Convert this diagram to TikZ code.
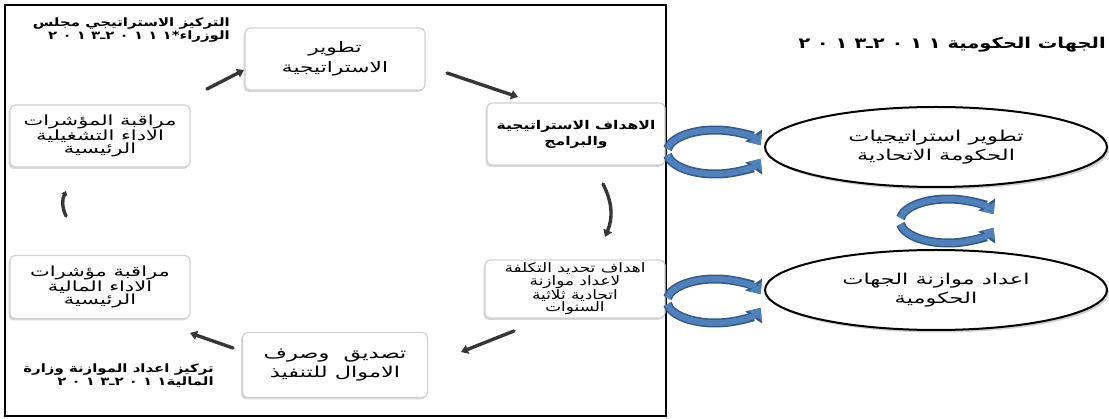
\documentclass[tikz,border=0pt]{standalone}
\usepackage{fontspec}
\newfontfamily\arf[Script=Arabic,FakeStretch=1.3]{DejaVu Sans}
\newfontfamily\arw[Script=Arabic,FakeStretch=1.5]{DejaVu Sans}
\TeXXeTstate=1
\usetikzlibrary{arrows.meta,shapes.geometric,shadows,calc}
\newcommand{\AR}[1]{\beginR #1\endR}
\definecolor{arcblue}{RGB}{79,129,189}
\definecolor{arcdark}{RGB}{52,88,135}
\definecolor{cycgray}{RGB}{55,55,55}
\begin{document}
\begin{tikzpicture}[x=1pt,y=1pt,
  box/.style={draw=black!18, line width=1.2pt, rounded corners=5pt, fill=white,
    drop shadow={shadow xshift=-1.5pt, shadow yshift=-2pt, opacity=0.25, fill=black!60},
    minimum width=180pt, minimum height=62pt, align=center, inner sep=1pt,
    font=\arw\fontsize{14.5}{20}\selectfont},
  lbl/.style={align=right, inner sep=0pt, font=\arf\bfseries\fontsize{11.5}{12.5}\selectfont},
  oval/.style={ellipse, draw=black, line width=2pt, fill=white,
    drop shadow={shadow xshift=2pt, shadow yshift=-2.5pt, opacity=0.3, fill=black!60},
    minimum width=342pt, minimum height=80pt, align=center,
    font=\arw\fontsize{15}{19}\selectfont},
  cyc/.style={line width=3.4pt, cycgray, line cap=round, -{Triangle[length=7pt,width=9pt]}},
  ringout/.style={line width=9pt, arcdark, -{Triangle[length=12pt,width=20pt]}},
  ring/.style={line width=6pt, arcblue, -{Triangle[length=9.5pt,width=16pt]}}
]
\useasboundingbox (0,0) rectangle (1109,-419);
\fill[white] (0,0) rectangle (1109,-419);
\draw[line width=2.5pt] (5,-5) rectangle (666,-416);

% cycle boxes
\node[box] (b1) at (335,-59) {\AR{تطوير}\\\AR{الاستراتيجية}};
\node[box, minimum width=178pt, font=\arf\bfseries\fontsize{12}{16}\selectfont] (b2) at (576,-134) {\AR{الاهداف الاستراتيجية}\\\AR{والبرامج}};
\node[box, minimum height=58pt, font=\arf\fontsize{13}{12.5}\selectfont] (b3) at (575,-289) {\AR{اهداف تحديد التكلفة}\\\AR{لاعداد موازنة}\\\AR{اتحادية ثلاثية}\\\AR{السنوات}};
\node[box, minimum width=185pt, minimum height=65pt, font=\arw\fontsize{15}{19}\selectfont] (b4) at (335,-365) {\AR{تصديق~~وصرف}\\\AR{الاموال للتنفيذ}};
\node[box, minimum height=63pt, font=\arw\fontsize{14}{13.5}\selectfont] (b5) at (100,-287) {\AR{مراقبة مؤشرات}\\\AR{الاداء المالية}\\\AR{الرئيسية}};
\node[box, font=\arw\fontsize{14}{13.5}\selectfont] (b6) at (100,-136) {\AR{مراقبة المؤشرات}\\\AR{الاداء التشغيلية}\\\AR{الرئيسية}};

% cycle arrows
\coordinate (a61s) at (207,-89); \coordinate (a61e) at (244,-70);
\coordinate (a12s) at (447,-73); \coordinate (a12e) at (518,-97);
\coordinate (a23s) at (603,-184); \coordinate (a23e) at (605,-237);
\coordinate (a34s) at (514,-331); \coordinate (a34e) at (461,-352);
\coordinate (a45s) at (233,-348); \coordinate (a45e) at (190,-333);
\coordinate (a56s) at (66,-216); \coordinate (a56e) at (66,-191);
\draw[cyc] (a61s) -- (a61e);
\draw[cyc] (a12s) -- (a12e);
\draw[cyc] (a23s) to[bend left=25] (a23e);
\draw[cyc] (a34s) -- (a34e);
\draw[cyc] (a45s) -- (a45e);
\draw[cyc, -{Triangle[length=4pt,width=6pt]}] (a56s) to[bend left=25] (a56e);

% side labels
\node[lbl, anchor=north east] (l1) at (230,-18) {\AR{التركيز الاستراتيجي مجلس}\\
  \AR{الوزراء*١ ١ ١ ٠ ٢\kern0ptـ\kern0pt٣ ١ ٠ ٢}};
\node[lbl, anchor=north east] (l2) at (214,-364) {\AR{تركيز اعداد الموازنة وزارة}\\
  \AR{المالية١ ١ ٠ ٢\kern0ptـ\kern0pt٣ ١ ٠ ٢}};

% right part
\node[anchor=east, inner sep=0pt, font=\arf\bfseries\fontsize{15}{16}\selectfont] (title) at (1106,-45)
  {\AR{الجهات الحكومية ١ ١ ٠ ٢\kern0ptـ\kern0pt٣ ١ ٠ ٢}};
\node[oval] (e1) at (936,-147) {\AR{تطوير استراتيجيات}\\\AR{الحكومة الاتحادية}};
\node[oval] (e2) at (936,-290) {\AR{اعداد موازنة الجهات}\\\AR{الحكومية}};

% circular arrows
\coordinate (r1) at (715,-152);
\coordinate (r2) at (715,-301);
\coordinate (r3) at (948,-221);
\foreach \c in {r1,r2,r3}{
  \foreach \st in {ringout,ring}{
    \draw[\st] ($(\c)+(172:48 and 22)$) arc[start angle=172, end angle=18, x radius=48, y radius=22];
    \draw[\st] ($(\c)+(188:48 and 22)$) arc[start angle=188, end angle=342, x radius=48, y radius=22];
  }
}
\end{tikzpicture}
\end{document}
